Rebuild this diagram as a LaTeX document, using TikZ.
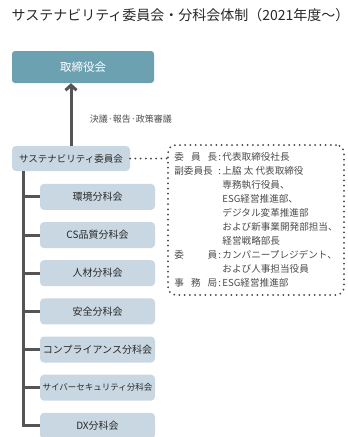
\documentclass[tikz,border=0pt]{standalone}
\usepackage{fontspec}
\setmainfont{Noto Sans CJK JP}
\usepackage{xcolor}
\usetikzlibrary{arrows.meta, positioning}
\definecolor{boardteal}{RGB}{108,161,178}
\definecolor{boxgray}{RGB}{200,215,225}
\definecolor{linegray}{RGB}{85,85,85}
\definecolor{textgray}{RGB}{75,75,75}
\definecolor{titlegray}{RGB}{40,40,40}
\newcommand{\memberlabel}[2][s]{\makebox[43pt][#1]{#2}\hspace{1pt}:\hspace{1.5pt}}
\newcommand{\memberindent}{\hspace*{43pt}\hspace{1pt}\phantom{:}\hspace{1.5pt}}
\tikzset{
    board/.style={rectangle, fill=boardteal, rounded corners=3pt, text=white,
                  minimum width=142pt, minimum height=32pt, inner sep=0pt,
                  font=\fontsize{11.5}{13}\selectfont},
    committee/.style={rectangle, fill=boxgray, rounded corners=4pt, text=titlegray,
                      minimum width=118pt, minimum height=25pt, inner sep=0pt,
                      font=\fontsize{9.5}{11}\selectfont},
    subbox/.style={committee, minimum width=115pt, minimum height=26pt,
                   font=\fontsize{10}{11}\selectfont},
    trunk line/.style={line width=3pt, color=linegray},
    arrow/.style={-{Straight Barb[length=5pt, width=11pt]}, line width=3pt, color=linegray},
    dots/.style={line width=2pt, dash pattern=on 0pt off 5.2pt, line cap=round, color=black!75},
    members/.style={rectangle, draw, dots, rounded corners=8pt, align=left,
                    minimum width=176pt, minimum height=150pt, text=textgray,
                    font=\fontsize{9.6}{14}\selectfont}
}
\begin{document}
\begin{tikzpicture}[x=1pt, y=-1pt]
    \useasboundingbox (0,0) rectangle (348,437);
    \node[anchor=west, text=titlegray, font=\fontsize{14}{16}\selectfont] (title) at (8,15)
        {サステナビリティ委員会・分科会体制（2021年度〜）};

    \node[board] (board) at (83,67) {取締役会};
    \node[committee] (comm) at (71,158.5) {サステナビリティ委員会};

    \node[subbox, below right=12.5pt and 28pt of comm.south west] (env) {環境分科会};
    \node[subbox, below=11.75pt of env] (cs) {CS品質分科会};
    \node[subbox, below=11.75pt of cs] (hr) {人材分科会};
    \node[subbox, below=11.75pt of hr] (safety) {安全分科会};
    \node[subbox, below=11.75pt of safety] (comp) {コンプライアンス分科会};
    \node[subbox, below=11.75pt of comp, font=\fontsize{8.5}{10}\selectfont] (cyber) {サイバーセキュリティ分科会};
    \node[subbox, below=11.75pt of cyber] (dx) {DX分科会};

    \node[members] (memb) at (256,220) {%
        \memberlabel{委\hfill 員\hfill 長}代表取締役社長\\
        \memberlabel[l]{副委員長}上脇 太 代表取締役\\
        \memberindent 専務執行役員、\\
        \memberindent ESG経営推進部、\\
        \memberindent デジタル変革推進部\\
        \memberindent および新事業開発部担当、\\
        \memberindent 経営戦略部長\\
        \memberlabel{委\hfill 員}カンパニープレジデント、\\
        \memberindent および人事担当役員\\
        \memberlabel{事\hfill 務\hfill 局}ESG経営推進部};

    % report line up to the board
    \draw[arrow] (comm.north) -- node[right=14pt, yshift=-5pt, text=textgray,
        font=\fontsize{9}{11}\selectfont] (report) {決議·報告·政策審議} (comm.north |- board.south);

    % trunk to the subcommittees
    \coordinate (trunk) at ([xshift=12pt]comm.south west);
    \draw[trunk line] (trunk) |- (dx.west);
    \foreach \n in {env, cs, hr, safety, comp, cyber}
        \draw[trunk line] (trunk |- \n.west) -- (\n.west);

    \draw[dots] (comm.east) -- (memb.west |- comm.east);
\end{tikzpicture}
\end{document}
